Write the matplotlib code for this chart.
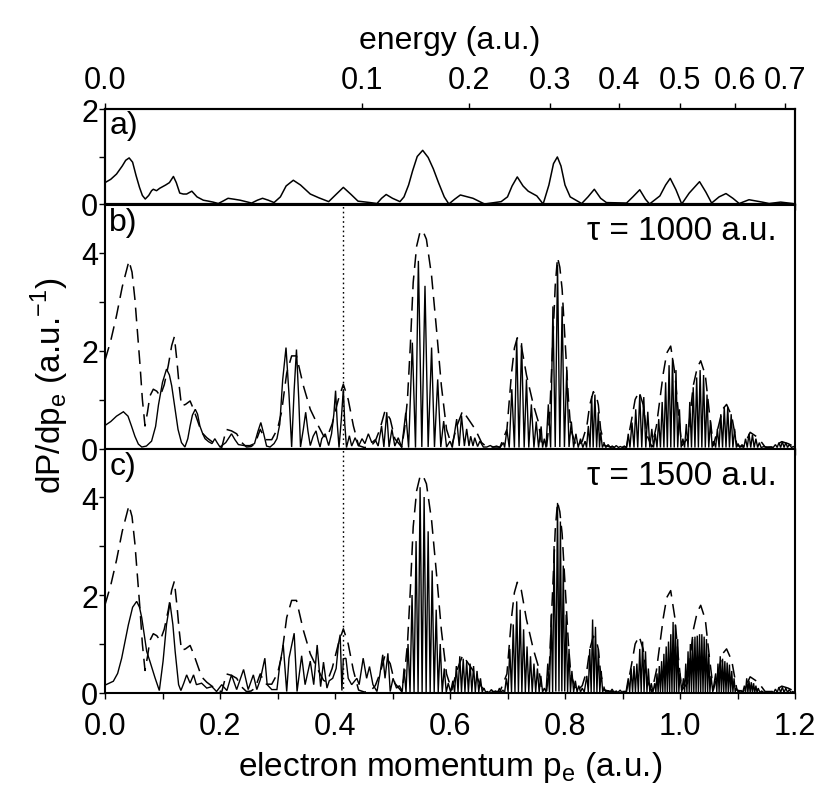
#!/usr/bin/env python3
"""Photoelectron momentum spectra, panels a-c, with energy axis on top."""

import numpy as np
import matplotlib

matplotlib.use("Agg")
import matplotlib.pyplot as plt
from matplotlib.ticker import MultipleLocator, NullFormatter

# ---- data ------------------------------------------------------------------
# panel a: single smooth spectrum
A_CURVE = [
    (0.000, 0.45), (0.010, 0.52), (0.020, 0.63), (0.030, 0.80), (0.036, 0.92), (0.042, 0.97),
    (0.048, 0.88), (0.054, 0.60), (0.060, 0.35), (0.065, 0.18), (0.070, 0.105), (0.076, 0.18),
    (0.081, 0.28), (0.084, 0.31), (0.0896, 0.28), (0.095, 0.33), (0.1055, 0.40), (0.112, 0.45),
    (0.119, 0.58), (0.124, 0.45), (0.130, 0.23), (0.136, 0.21), (0.142, 0.21), (0.151, 0.27),
    (0.160, 0.15), (0.171, 0.08), (0.180, 0.06), (0.188, 0.04), (0.197, 0.01), (0.205, 0.06),
    (0.214, 0.12), (0.225, 0.10), (0.235, 0.08), (0.255, 0.02), (0.265, 0.08), (0.274, 0.12),
    (0.284, 0.08), (0.294, 0.03), (0.305, 0.15), (0.315, 0.38), (0.3275, 0.50), (0.340, 0.40),
    (0.357, 0.21), (0.372, 0.13), (0.389, 0.05), (0.400, 0.18), (0.4145, 0.35), (0.428, 0.20),
    (0.440, 0.06), (0.461, 0.03), (0.473, 0.01), (0.481, 0.12), (0.489, 0.20), (0.500, 0.12),
    (0.513, 0.05), (0.520, 0.15), (0.528, 0.40), (0.535, 0.70), (0.543, 1.00), (0.5525, 1.13),
    (0.562, 0.98), (0.571, 0.74), (0.580, 0.45), (0.590, 0.15), (0.598, 0.00), (0.608, 0.10),
    (0.618, 0.19), (0.640, 0.12), (0.660, 0.00), (0.689, 0.05), (0.700, 0.15), (0.708, 0.38),
    (0.717, 0.57), (0.727, 0.38), (0.736, 0.27), (0.751, 0.17), (0.762, 0.00), (0.772, 0.40),
    (0.780, 0.85), (0.7867, 0.99), (0.793, 0.80), (0.800, 0.40), (0.809, 0.15), (0.829, 0.01),
    (0.840, 0.15), (0.851, 0.31), (0.862, 0.12), (0.872, 0.03), (0.907, 0.02), (0.918, 0.15),
    (0.930, 0.30), (0.940, 0.10), (0.947, 0.00), (0.965, 0.17), (0.975, 0.40), (0.983, 0.54),
    (0.993, 0.30), (1.003, 0.00), (1.016, 0.23), (1.034, 0.47), (1.045, 0.25), (1.055, 0.02),
    (1.068, 0.15), (1.080, 0.22), (1.092, 0.12), (1.103, 0.01), (1.120, 0.09), (1.143, 0.04),
    (1.155, 0.01), (1.175, 0.04), (1.196, 0.01),
]

# dashed reference spectrum (same in panels b and c)
REF_CURVE = [
    (0.000, 1.80), (0.010, 2.20), (0.020, 2.71), (0.030, 3.30), (0.0417, 3.83), (0.047, 3.60),
    (0.052, 3.05), (0.057, 2.30), (0.061, 1.69), (0.065, 1.00), (0.0696, 0.46), (0.074, 0.75),
    (0.078, 1.07), (0.084, 1.21), (0.090, 1.17), (0.096, 1.07), (0.103, 1.30), (0.110, 1.69),
    (0.116, 2.10), (0.1206, 2.28), (0.125, 1.80), (0.129, 1.28), (0.133, 0.87), (0.140, 0.90),
    (0.148, 0.97), (0.154, 0.80), (0.160, 0.60), (0.168, 0.33), (0.177, 0.22), (0.186, 0.14),
    (0.194, 0.08), (0.203, 0.02), (0.211, 0.39), (0.220, 0.36), (0.229, 0.30), (0.238, 0.12),
    (0.246, 0.03), (0.254, 0.04), (0.261, 0.10), (0.270, 0.39), (0.279, 0.18), (0.290, 0.18),
    (0.300, 0.40), (0.307, 0.74), (0.316, 1.54), (0.3246, 1.89), (0.333, 1.89), (0.345, 1.28),
    (0.357, 0.80), (0.368, 0.53), (0.380, 0.26), (0.386, 0.22), (0.395, 0.50), (0.4058, 1.00),
    (0.4145, 1.31), (0.423, 1.00), (0.432, 0.46), (0.441, 0.06), (0.451, 0.02), (0.461, 0.03),
    (0.470, 0.15), (0.478, 0.39), (0.487, 0.77), (0.496, 0.60), (0.504, 0.20), (0.516, 0.03),
    (0.521, 0.40), (0.526, 1.00), (0.531, 2.10), (0.536, 3.39), (0.542, 4.13), (0.5475, 4.40),
    (0.5525, 4.45), (0.559, 4.27), (0.568, 3.52), (0.577, 2.37), (0.585, 1.28), (0.594, 0.39),
    (0.603, 0.06), (0.612, 0.46), (0.622, 0.77), (0.632, 0.60), (0.644, 0.39), (0.655, 0.12),
    (0.664, 0.03), (0.687, 0.03), (0.699, 0.39), (0.707, 1.54), (0.712, 2.05), (0.717, 2.26),
    (0.724, 2.10), (0.733, 1.50), (0.745, 0.89), (0.754, 0.53), (0.759, 0.10), (0.768, 0.03),
    (0.773, 0.60), (0.777, 1.69), (0.783, 3.32), (0.787, 3.90), (0.791, 3.70), (0.795, 3.25),
    (0.800, 2.23), (0.806, 1.00), (0.810, 0.39), (0.820, 0.03), (0.830, 0.15), (0.838, 0.46),
    (0.843, 0.89), (0.8493, 1.16), (0.855, 1.05), (0.858, 0.89), (0.862, 0.39), (0.869, 0.06),
    (0.880, 0.03), (0.907, 0.03), (0.916, 0.60), (0.922, 1.00), (0.929, 1.16), (0.936, 0.89),
    (0.943, 0.26), (0.951, 0.03), (0.959, 0.46), (0.965, 1.00), (0.971, 1.54), (0.977, 1.95),
    (0.9838, 2.09), (0.991, 1.54), (0.997, 0.74), (1.003, 0.06), (1.013, 0.20), (1.023, 1.28),
    (1.030, 1.65), (1.036, 1.79), (1.044, 1.50), (1.051, 0.74), (1.058, 0.06), (1.067, 0.46),
    (1.074, 0.80), (1.081, 0.90), (1.090, 0.66), (1.099, 0.06), (1.110, 0.03), (1.122, 0.33),
    (1.136, 0.22), (1.148, 0.03), (1.162, 0.03), (1.177, 0.14), (1.188, 0.10), (1.200, 0.03),
]

# panel b solid, tau = 1000 a.u.
B_CURVE = [
    (0.000, 0.47), (0.010, 0.55), (0.020, 0.66), (0.032, 0.75), (0.040, 0.66), (0.046, 0.46),
    (0.052, 0.25), (0.058, 0.09), (0.064, 0.03), (0.072, 0.05), (0.081, 0.15), (0.088, 0.45),
    (0.093, 0.89), (0.100, 1.35), (0.107, 1.62), (0.112, 1.50), (0.116, 1.28), (0.122, 0.80),
    (0.127, 0.39), (0.133, 0.12), (0.139, 0.03), (0.144, 0.20), (0.148, 0.46), (0.152, 0.68),
    (0.157, 0.80), (0.161, 0.70), (0.165, 0.46), (0.170, 0.30), (0.174, 0.20), (0.180, 0.14),
    (0.186, 0.10), (0.191, 0.20), (0.195, 0.12), (0.200, 0.03), (0.210, 0.12), (0.220, 0.30),
    (0.226, 0.18), (0.232, 0.08), (0.242, 0.06), (0.252, 0.06), (0.260, 0.10), (0.266, 0.35),
    (0.271, 0.53), (0.276, 0.30), (0.281, 0.05), (0.287, 0.03), (0.294, 0.10), (0.299, 0.20),
    (0.304, 0.50), (0.309, 1.40), (0.3148, 2.06), (0.320, 1.10), (0.3246, 0.03), (0.329, 1.20),
    (0.333, 2.02), (0.337, 1.00), (0.340, 0.03), (0.345, 0.40), (0.349, 0.74), (0.353, 0.35),
    (0.357, 0.06), (0.362, 0.25), (0.367, 0.36), (0.371, 0.15), (0.374, 0.03), (0.377, 0.20),
    (0.383, 0.30), (0.389, 0.06), (0.394, 0.30), (0.398, 0.70), (0.401, 1.18), (0.404, 0.50),
    (0.407, 0.02), (0.411, 0.60), (0.4145, 1.21), (0.417, 0.50), (0.420, 0.02), (0.425, 0.26),
    (0.429, 0.05), (0.435, 0.22), (0.441, 0.05), (0.447, 0.20), (0.452, 0.10), (0.458, 0.30),
    (0.464, 0.12), (0.470, 0.18), (0.475, 0.05), (0.481, 0.46), (0.485, 0.03), (0.490, 0.74),
    (0.494, 0.03), (0.499, 0.39), (0.504, 0.05), (0.510, 0.22), (0.516, 0.02),
    (0.523, 0.73), (0.528, 0.02), (0.5345, 2.16), (0.540, 0.02), (0.545, 3.83), (0.551, 0.03),
    (0.5565, 3.32), (0.562, 0.03), (0.568, 2.06), (0.573, 0.03), (0.5786, 1.41), (0.584, 0.03),
    (0.589, 0.56), (0.594, 0.03), (0.600, 0.15), (0.604, 0.02),
    (0.6116, 0.60), (0.616, 0.05), (0.620, 0.67), (0.625, 0.05), (0.629, 0.40), (0.633, 0.05),
    (0.636, 0.25), (0.640, 0.05), (0.643, 0.22), (0.648, 0.04), (0.652, 0.15), (0.658, 0.03),
    (0.664, 0.03), (0.670, 0.06), (0.675, 0.03), (0.681, 0.05), (0.687, 0.02), (0.693, 0.12),
    (0.695, 0.02),
    (0.699, 0.39), (0.703, 0.02), (0.7075, 1.21), (0.712, 0.02), (0.716, 2.23), (0.720, 0.02),
    (0.7245, 2.15), (0.729, 0.02), (0.733, 1.41), (0.737, 0.02), (0.7415, 0.90), (0.746, 0.02),
    (0.750, 0.55), (0.754, 0.02), (0.7585, 0.45), (0.761, 0.02),
    (0.764, 0.20), (0.767, 0.02), (0.771, 0.90), (0.775, 0.02), (0.779, 2.90), (0.783, 0.03),
    (0.787, 3.75), (0.791, 0.03), (0.795, 2.90), (0.799, 0.03), (0.803, 1.60), (0.807, 0.03),
    (0.811, 0.55), (0.815, 0.02), (0.819, 0.30), (0.823, 0.02), (0.827, 0.20), (0.831, 0.02),
    (0.835, 0.15), (0.8375, 0.02), (0.8406, 0.46), (0.8435, 0.02), (0.8464, 1.07), (0.849, 0.02),
    (0.852, 1.10), (0.855, 0.02), (0.858, 0.74), (0.860, 0.02), (0.862, 0.33), (0.865, 0.02),
    (0.868, 0.10), (0.871, 0.02), (0.875, 0.08), (0.879, 0.02), (0.882, 0.05), (0.886, 0.02),
    (0.889, 0.06), (0.893, 0.02), (0.896, 0.04), (0.900, 0.02), (0.903, 0.05), (0.907, 0.02),
    (0.910, 0.30), (0.913, 0.02), (0.9165, 0.53), (0.920, 0.02), (0.923, 0.80), (0.9265, 0.02),
    (0.930, 1.10), (0.9335, 0.02), (0.937, 1.05), (0.9405, 0.02), (0.944, 0.75), (0.9475, 0.02),
    (0.951, 0.40), (0.954, 0.02),
    (0.957, 0.30), (0.960, 0.02), (0.963, 0.60), (0.966, 0.02), (0.969, 0.95), (0.972, 0.02),
    (0.975, 1.35), (0.978, 0.02), (0.981, 1.70), (0.984, 0.02), (0.987, 1.85), (0.990, 0.02),
    (0.993, 1.60), (0.996, 0.02), (0.999, 0.80), (1.002, 0.02), (1.005, 0.20), (1.008, 0.02),
    (1.011, 0.50), (1.014, 0.02), (1.017, 0.95), (1.020, 0.02), (1.023, 1.25), (1.026, 0.02),
    (1.029, 1.45), (1.032, 0.02), (1.035, 1.60), (1.038, 0.02), (1.041, 1.50), (1.044, 0.02),
    (1.047, 1.10), (1.050, 0.02), (1.053, 0.55), (1.056, 0.02), (1.059, 0.15), (1.062, 0.02),
    (1.065, 0.40), (1.068, 0.02), (1.071, 0.70), (1.074, 0.02), (1.077, 0.85), (1.080, 0.02),
    (1.083, 0.85), (1.086, 0.02), (1.089, 0.70), (1.092, 0.02), (1.095, 0.40), (1.098, 0.02),
    (1.101, 0.10), (1.104, 0.02),
    (1.108, 0.08), (1.111, 0.02), (1.114, 0.20), (1.117, 0.02), (1.120, 0.30), (1.123, 0.02),
    (1.126, 0.28), (1.129, 0.02), (1.132, 0.20), (1.135, 0.02), (1.138, 0.12), (1.141, 0.02),
    (1.146, 0.04), (1.152, 0.02), (1.158, 0.03), (1.162, 0.02), (1.166, 0.08), (1.169, 0.02),
    (1.172, 0.12), (1.175, 0.02), (1.178, 0.14), (1.181, 0.02), (1.184, 0.12), (1.187, 0.02),
    (1.190, 0.08), (1.194, 0.02), (1.197, 0.04), (1.200, 0.02),
]

# panel c solid, tau = 1500 a.u.
C_CURVE = [
    (0.000, 0.16), (0.0145, 0.24), (0.022, 0.40), (0.029, 0.71), (0.0406, 1.39), (0.048, 1.75),
    (0.0551, 1.87), (0.060, 1.75), (0.064, 1.53), (0.0725, 0.85), (0.078, 0.65), (0.087, 0.31),
    (0.0945, 0.05), (0.101, 0.65), (0.107, 1.40), (0.113, 1.84), (0.118, 1.40), (0.122, 0.85),
    (0.128, 0.17), (0.132, 0.05), (0.137, 0.20), (0.142, 0.37), (0.148, 0.20), (0.154, 0.37),
    (0.159, 0.17), (0.168, 0.20), (0.177, 0.10), (0.186, 0.13), (0.194, 0.03), (0.203, 0.17),
    (0.212, 0.05), (0.220, 0.37), (0.229, 0.07), (0.241, 0.48), (0.249, 0.07), (0.258, 0.37),
    (0.264, 0.07), (0.270, 0.27), (0.278, 0.71), (0.282, 0.17), (0.290, 0.07), (0.299, 0.07),
    (0.304, 0.58), (0.310, 0.98), (0.316, 0.03), (0.320, 0.71), (0.329, 1.22), (0.334, 0.03),
    (0.342, 0.76), (0.348, 0.17), (0.357, 0.65), (0.363, 0.17), (0.369, 0.98), (0.375, 0.13),
    (0.380, 0.63), (0.386, 0.10), (0.390, 0.25), (0.396, 0.30), (0.402, 0.50), (0.406, 1.00),
    (0.409, 1.19), (0.412, 0.05), (0.4145, 0.70), (0.419, 0.71), (0.423, 0.30), (0.429, 0.17),
    (0.438, 0.30), (0.442, 0.17), (0.449, 0.71), (0.455, 0.30), (0.460, 0.54), (0.466, 0.17),
    (0.473, 0.03), (0.478, 0.37), (0.483, 0.78), (0.487, 0.30), (0.492, 0.81), (0.496, 0.03),
    (0.501, 0.30), (0.507, 0.10), (0.512, 0.15), (0.517, 0.03),
    (0.520, 0.50), (0.5235, 0.02), (0.527, 1.00), (0.5305, 0.02), (0.534, 2.00), (0.5375, 0.02),
    (0.541, 3.10), (0.5445, 0.02), (0.548, 4.20), (0.5515, 0.02), (0.555, 4.00), (0.5585, 0.02),
    (0.562, 3.30), (0.5655, 0.02), (0.569, 2.50), (0.5725, 0.02), (0.576, 1.70), (0.5795, 0.02),
    (0.583, 1.00), (0.5865, 0.02), (0.590, 0.50), (0.5935, 0.02), (0.597, 0.20), (0.601, 0.02),
    (0.605, 0.25), (0.608, 0.02), (0.611, 0.55), (0.614, 0.02), (0.617, 0.75), (0.620, 0.02),
    (0.623, 0.70), (0.626, 0.02), (0.629, 0.65), (0.632, 0.02), (0.635, 0.60), (0.638, 0.02),
    (0.641, 0.55), (0.644, 0.02), (0.647, 0.45), (0.650, 0.02), (0.653, 0.30), (0.656, 0.02),
    (0.659, 0.10), (0.662, 0.02), (0.665, 0.03), (0.668, 0.01), (0.672, 0.07), (0.676, 0.01),
    (0.679, 0.04), (0.683, 0.01), (0.686, 0.10), (0.689, 0.01), (0.692, 0.06), (0.695, 0.01),
    (0.698, 0.30), (0.701, 0.02), (0.704, 0.90), (0.707, 0.02), (0.710, 1.40), (0.713, 0.02),
    (0.716, 1.87), (0.719, 0.02), (0.722, 1.70), (0.725, 0.02), (0.728, 1.30), (0.731, 0.02),
    (0.734, 0.95), (0.737, 0.02), (0.740, 0.75), (0.743, 0.02), (0.746, 0.60), (0.749, 0.02),
    (0.752, 0.50), (0.755, 0.02), (0.758, 0.35), (0.761, 0.02), (0.764, 0.10), (0.767, 0.02),
    (0.770, 0.60), (0.773, 0.02), (0.776, 1.60), (0.7785, 0.02), (0.781, 3.00), (0.784, 0.03),
    (0.787, 3.88), (0.7895, 0.03), (0.792, 3.50), (0.7945, 0.03), (0.797, 2.60), (0.7995, 0.03),
    (0.802, 1.60), (0.8045, 0.02), (0.807, 0.90), (0.8095, 0.02), (0.812, 0.45), (0.815, 0.02),
    (0.818, 0.25), (0.821, 0.02), (0.824, 0.15), (0.827, 0.02), (0.830, 0.10), (0.8335, 0.02),
    (0.838, 0.35), (0.8405, 0.02), (0.843, 0.90), (0.8455, 0.02), (0.848, 1.50), (0.8505, 0.02),
    (0.853, 1.35), (0.8555, 0.02), (0.858, 0.90), (0.8605, 0.02), (0.863, 0.45), (0.8655, 0.02),
    (0.868, 0.10), (0.871, 0.01), (0.875, 0.05), (0.878, 0.01), (0.882, 0.08), (0.885, 0.01),
    (0.889, 0.04), (0.892, 0.01), (0.896, 0.06), (0.899, 0.01), (0.903, 0.03), (0.906, 0.01),
    (0.910, 0.30), (0.9125, 0.02), (0.915, 0.50), (0.9175, 0.02), (0.920, 0.55), (0.9225, 0.02),
    (0.925, 0.60), (0.9275, 0.02), (0.930, 0.90), (0.9325, 0.02), (0.935, 1.05), (0.9375, 0.02),
    (0.940, 0.85), (0.9425, 0.02), (0.945, 0.50), (0.9475, 0.02), (0.950, 0.20), (0.953, 0.02),
    (0.956, 0.20), (0.958, 0.02), (0.960, 0.40), (0.962, 0.02), (0.964, 0.55), (0.966, 0.02),
    (0.968, 0.65), (0.970, 0.02), (0.972, 0.80), (0.974, 0.02), (0.976, 0.95), (0.978, 0.02),
    (0.980, 1.05), (0.982, 0.02), (0.984, 1.20), (0.986, 0.02), (0.988, 1.45), (0.990, 0.02),
    (0.992, 1.40), (0.994, 0.02), (0.996, 1.10), (0.998, 0.02), (1.000, 0.40), (1.003, 0.02),
    (1.006, 0.30), (1.008, 0.02), (1.010, 0.60), (1.012, 0.02), (1.014, 0.85), (1.016, 0.02),
    (1.018, 1.00), (1.020, 0.02), (1.022, 1.10), (1.024, 0.02), (1.026, 1.15), (1.028, 0.02),
    (1.030, 1.17), (1.032, 0.02), (1.034, 1.20), (1.036, 0.02), (1.038, 1.20), (1.040, 0.02),
    (1.042, 1.15), (1.044, 0.02), (1.046, 1.10), (1.048, 0.02), (1.050, 0.80), (1.052, 0.02),
    (1.054, 0.35), (1.057, 0.02),
    (1.062, 0.40), (1.064, 0.02), (1.066, 0.60), (1.068, 0.02), (1.070, 0.75), (1.072, 0.02),
    (1.074, 0.70), (1.076, 0.02), (1.078, 0.65), (1.080, 0.02), (1.082, 0.62), (1.084, 0.02),
    (1.086, 0.58), (1.088, 0.02), (1.090, 0.45), (1.092, 0.02), (1.094, 0.30), (1.096, 0.02),
    (1.098, 0.10), (1.101, 0.02),
    (1.106, 0.05), (1.109, 0.01), (1.112, 0.15), (1.114, 0.01), (1.116, 0.30), (1.118, 0.01),
    (1.120, 0.25), (1.122, 0.01), (1.124, 0.22), (1.126, 0.01), (1.128, 0.20), (1.130, 0.01),
    (1.132, 0.15), (1.134, 0.01), (1.136, 0.10), (1.139, 0.01), (1.142, 0.04), (1.146, 0.01),
    (1.150, 0.02), (1.155, 0.01), (1.160, 0.03), (1.163, 0.01), (1.166, 0.08), (1.169, 0.01),
    (1.172, 0.12), (1.175, 0.01), (1.178, 0.12), (1.181, 0.01), (1.184, 0.10), (1.187, 0.01),
    (1.190, 0.07), (1.193, 0.01), (1.196, 0.03), (1.200, 0.01),
]

ENERGY_TICKS = [0.0, 0.1, 0.2, 0.3, 0.4, 0.5, 0.6, 0.7]
MARKER_P = 0.4145
PANEL_LABELS = ["a)", "b)", "c)"]
TAU_LABELS = {1: "\u03c4 = 1000 a.u.", 2: "\u03c4 = 1500 a.u."}

NARROW = ["Liberation Sans Narrow", "Liberation Sans", "DejaVu Sans"]
REGULAR = ["Liberation Sans", "DejaVu Sans"]


def xy(points):
    arr = np.array(points)
    return arr[:, 0], arr[:, 1]


def style_axis(ax, ymax, ymajor):
    ax.set_xlim(0, 1.2)
    ax.set_ylim(0, ymax)
    ax.xaxis.set_major_locator(MultipleLocator(0.2))
    ax.xaxis.set_minor_locator(MultipleLocator(0.1))
    ax.yaxis.set_major_locator(MultipleLocator(ymajor))
    ax.yaxis.set_minor_locator(MultipleLocator(ymajor / 2))
    ax.tick_params(which="both", direction="out", length=4, width=1.0, top=False, right=False)
    ax.tick_params(axis="y", labelsize=22, pad=1)
    ax.tick_params(axis="x", labelsize=22, pad=9)
    for lab in ax.get_yticklabels():
        lab.set_family(REGULAR)
    for sp in ax.spines.values():
        sp.set_linewidth(1.5)


def main():
    fig = plt.figure(figsize=(8.31, 8.04), dpi=100)
    left, width = 105 / 831, 690 / 831
    ax_a = fig.add_axes([left, 1 - 205 / 804, width, 95 / 804])
    ax_b = fig.add_axes([left, 1 - 449.5 / 804, width, 244 / 804])
    ax_c = fig.add_axes([left, 1 - 694 / 804, width, 244 / 804])

    style_axis(ax_a, 2.0, 2)
    style_axis(ax_b, 4.98, 2)
    style_axis(ax_c, 4.98, 2)
    for ax in (ax_a, ax_b):
        ax.xaxis.set_major_formatter(NullFormatter())
    for lab in ax_c.get_xticklabels():
        lab.set_family(NARROW)

    ax_a.plot(*xy(A_CURVE), color="black", lw=1.1)

    rx, ry = xy(REF_CURVE)
    for ax, curve in ((ax_b, B_CURVE), (ax_c, C_CURVE)):
        ax.plot(*xy(curve), color="black", lw=1.0, solid_joinstyle="miter")
        ax.plot(rx, ry, color="black", lw=1.1, dashes=(9.0, 5.0))
        ax.axvline(MARKER_P, color="black", lw=1.0, linestyle=(0, (1.2, 2.2)))

    for ax, lab in zip((ax_a, ax_b, ax_c), PANEL_LABELS):
        ax.text(0.006, 0.99, lab, transform=ax.transAxes, ha="left", va="top",
                fontsize=23, family=REGULAR)
    for idx, lab in TAU_LABELS.items():
        ax = (ax_a, ax_b, ax_c)[idx]
        ax.text(0.973, 0.955, lab, transform=ax.transAxes, ha="right", va="top",
                fontsize=24, family=REGULAR)

    # energy axis on top: E = p^2 / 2
    top = ax_a.twiny()
    top.set_xlim(0, 1.2)
    top.set_xticks([np.sqrt(2 * e) for e in ENERGY_TICKS])
    top.set_xticklabels([f"{e:.1f}" for e in ENERGY_TICKS], family=NARROW, fontsize=22)
    top.tick_params(direction="out", length=4, width=1.0, pad=6)
    for sp in top.spines.values():
        sp.set_linewidth(1.5)
    top.set_xlabel("energy (a.u.)", fontsize=23, family=NARROW, labelpad=12)

    ax_c.set_xlabel("electron momentum p$_\\mathregular{e}$ (a.u.)", fontsize=24,
                    family=NARROW, labelpad=6)
    fig.text(0.06, 0.52, "dP/dp$_\\mathregular{e}$ (a.u.$^\\mathregular{-1}$)", rotation=90,
             ha="center", va="center", fontsize=24, family=REGULAR)

    fig.savefig("out.png", dpi=100)
    plt.close(fig)


if __name__ == "__main__":
    main()
